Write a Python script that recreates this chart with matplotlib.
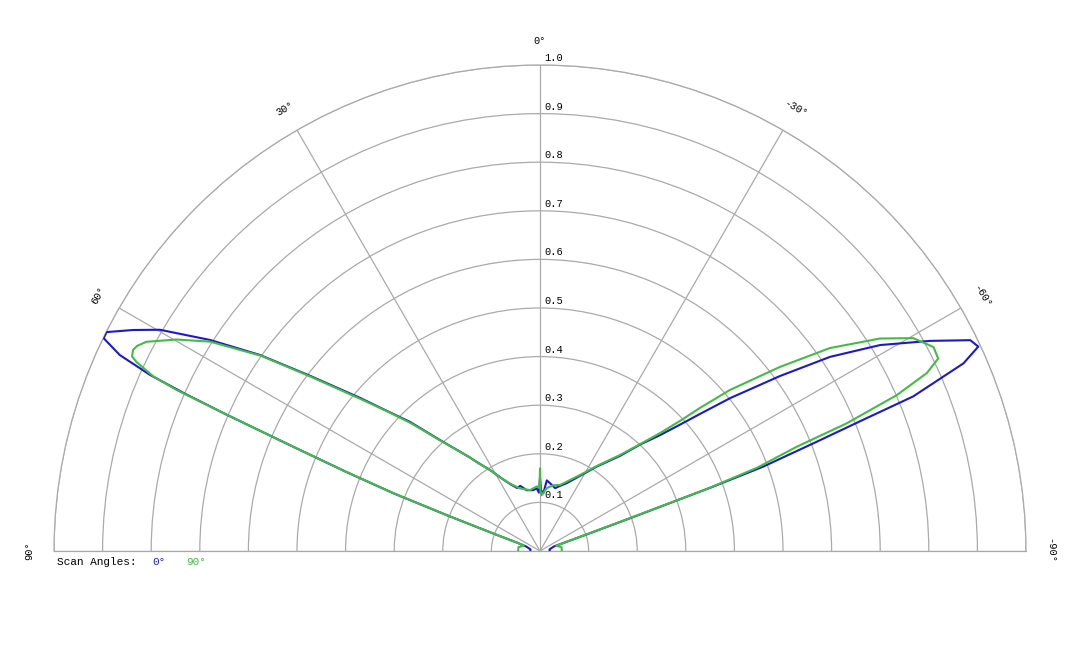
import numpy as np
import matplotlib
matplotlib.use("Agg")
import matplotlib.pyplot as plt

# readings off the pattern: angle in degrees, normalised amplitude
blue_theta = [-90, -80, -72, -70.5, -70.0, -69.6, -69.3, -68.5, -67.9, -67.5,
              -66.1, -65.0, -63.9, -61.7, -58.8, -56.2, -53.9, -51.2, -49.4,
              -48.0, -46.0, -43.2, -40.1, -34.0, -28.0, -21.5, -17.0, -13.5,
              -8.4, -5.5, -3.3, -1.0, 0.0, 1.0, 3.0, 6.3, 12.3, 16.9, 20.0,
              24.1, 28.0, 31.7, 35.0, 37.0, 42.0, 45.2, 47.5, 49.6, 52.7,
              55.0, 57.4, 59.8, 61.5, 63.2, 64.0, 65.0, 65.7, 66.1, 66.5,
              67.1, 67.8, 68.5, 69.0, 69.5, 70.0, 72, 80, 90]
blue_r = [0.02, 0.02, 0.03, 0.10, 0.20, 0.38, 0.49, 0.605, 0.718, 0.831,
          0.953, 0.995, 0.986, 0.912, 0.818, 0.718, 0.611, 0.502, 0.433,
          0.390, 0.343, 0.300, 0.256, 0.210, 0.175, 0.150, 0.140, 0.133,
          0.141, 0.146, 0.119, 0.125, 0.150, 0.120, 0.129, 0.126, 0.128, 0.140, 0.138,
          0.151, 0.170, 0.196, 0.221, 0.242, 0.307, 0.377, 0.426, 0.486, 0.595,
          0.703, 0.806, 0.905, 0.953, 0.999, 0.999, 0.954, 0.880, 0.800, 0.700,
          0.551, 0.430, 0.324, 0.200, 0.100, 0.050, 0.03, 0.02, 0.02]

green_theta = [-90, -80, -72, -70.5, -70.0, -69.6, -69.0, -67.9, -67.4, -66.4,
               -65.3, -64.2, -62.6, -60.3, -58.0, -55.0, -52.5, -49.7, -48.2,
               -47.1, -45.5, -43.1, -39.8, -34.0, -27.8, -21.1, -16.9, -11.4,
               -6.1, -1.7, -0.5, 0.0, 0.5, 2.9, 9.3, 17.7, 24.1, 28.0, 31.7,
               35.0, 37.0, 42.0, 45.2, 47.5, 49.6, 52.7, 55.0, 57.6, 59.8,
               62.0, 63.0, 63.7, 64.5, 64.9, 65.7, 66.1, 66.5, 67.1, 67.8,
               68.5, 69.0, 69.5, 70.0, 72, 80, 90]
green_r = [0.045, 0.045, 0.035, 0.08, 0.18, 0.37, 0.48, 0.570, 0.684, 0.801,
           0.876, 0.910, 0.912, 0.884, 0.825, 0.728, 0.622, 0.512, 0.442,
           0.393, 0.346, 0.301, 0.257, 0.212, 0.177, 0.153, 0.142, 0.138,
           0.130, 0.115, 0.120, 0.170, 0.130, 0.133, 0.127, 0.135, 0.152, 0.170, 0.196,
           0.220, 0.242, 0.305, 0.372, 0.424, 0.480, 0.590, 0.700, 0.804, 0.865,
           0.917, 0.930, 0.934, 0.930, 0.917, 0.873, 0.818, 0.700, 0.550, 0.430,
           0.320, 0.200, 0.100, 0.050, 0.035, 0.045, 0.045]

theta_ticks = [-90, -60, -30, 0, 30, 60, 90]
r_ticks = [0.1, 0.2, 0.3, 0.4, 0.5, 0.6, 0.7, 0.8, 0.9, 1.0]

blue = "#1a1acc"
green = "#44bb44"
grid_col = "#aaaaaa"
mono = "Liberation Mono"

fig = plt.figure(figsize=(10.8, 6.48), dpi=100)
# square box: the half disc sits centred in it, pole at (540, 551) from top
ax = fig.add_axes([54 / 1080, -146 / 648, 972 / 1080, 972 / 648], projection="polar")
ax.set_theta_zero_location("N")
ax.set_theta_direction(1)
ax.set_thetamin(-90)
ax.set_thetamax(90)
ax.set_ylim(0, 1.0)

ax.set_xticks(np.radians(theta_ticks))
ax.set_xticklabels([])
ax.set_yticks(r_ticks)
ax.set_yticklabels([])
ax.tick_params(length=0)
ax.grid(True, color=grid_col, linewidth=0.9)
for sp in ax.spines.values():
    sp.set_color(grid_col)
    sp.set_linewidth(0.9)

ax.plot(np.radians(blue_theta), blue_r, color=blue, lw=1.5, zorder=3)
ax.plot(np.radians(green_theta), green_r, color=green, lw=1.5, zorder=4)

# angle labels, turned along the rim
for t in theta_ticks:
    ax.text(np.radians(t), 1.05, f"{t}°", rotation=t, rotation_mode="anchor",
            ha="center", va="center", fontsize=7.5, family=mono, clip_on=False)

# ring labels next to the 0° spoke
for r in r_ticks:
    ax.annotate(f"{r:.1f}", xy=(0, r), xytext=(3, 1.5), textcoords="offset points",
                ha="left", va="bottom", fontsize=7.5, family=mono)

ly = 1 - 562 / 648
fig.text(57 / 1080, ly, "Scan Angles:", fontsize=8, family=mono, va="center")
fig.text(152 / 1080, ly, "0°", fontsize=8, family=mono, va="center", color=blue)
fig.text(186 / 1080, ly, "90°", fontsize=8, family=mono, va="center", color=green)

fig.savefig("out.png", dpi=100)
